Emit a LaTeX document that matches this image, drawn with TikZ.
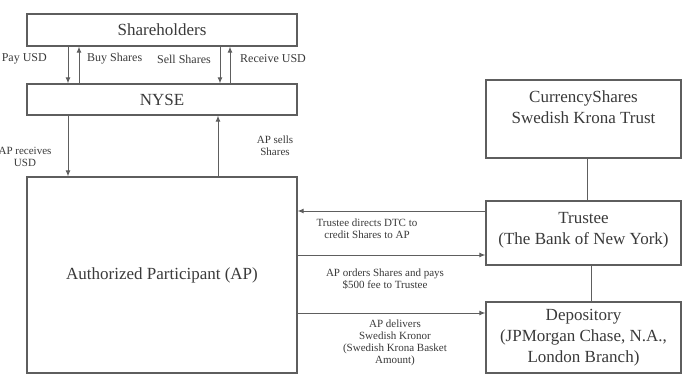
\documentclass[tikz,border=0pt]{standalone}
\usepackage{fontspec}
\setmainfont{Liberation Serif}
\usetikzlibrary{arrows.meta,positioning}
\definecolor{linegray}{HTML}{5E5E5E}
\definecolor{textgray}{HTML}{3A3A3A}

\begin{document}
\begin{tikzpicture}[x=1pt,y=-1pt]
\tikzstyle{entity}=[rectangle, draw=linegray, line width=1.3pt, text=textgray, font=\fontsize{17}{21}\selectfont, align=center, inner sep=0pt]
\tikzstyle{flow}=[-{Latex[length=6pt,width=5pt]}, draw=linegray, line width=1pt]
\tikzstyle{link}=[draw=linegray, line width=1pt]
\tikzstyle{note}=[font=\fontsize{11}{12}\selectfont, text=textgray, align=center, inner sep=0pt]
\tikzstyle{topnote}=[note, font=\fontsize{12}{13}\selectfont]

\clip (0,0) rectangle (683,377);
\fill[white] (0,0) rectangle (683,377);

%%%%%%%%%%%%%%%%%%%%%%%%%%%%%%
%%%%% MERCADO

%%%%% POSICIONES
\coordinate (sh) at (162,30);
\coordinate (ny) at (162,99.5);
\coordinate (pa) at (162,275);

\coordinate (pay) at (68,0);
\coordinate (buy) at (79,0);
\coordinate (sell) at (220,0);
\coordinate (recv) at (230,0);
\coordinate (apsell) at (218,0);

%%%%% CAJAS
\node[entity, minimum width=270, minimum height=32] (shareholders) at (sh) {Shareholders};
\node[entity, minimum width=270, minimum height=31] (nyse) at (ny) {NYSE};
\node[entity, minimum width=270, minimum height=196] (ap) at (pa) {Authorized Participant (AP)};

%%%%%%%%%%%%%%%%%%%%%%%%%%%%%%
%%%%% FIDEICOMISO

%%%%% POSICIONES
\coordinate (tr) at (583.5,119);
\coordinate (te) at (583.5,233);
\coordinate (de) at (583.5,337.5);

\coordinate (dtc) at (0,211);
\coordinate (order) at (0,255);
\coordinate (deliver) at (0,313);

%%%%% CAJAS
\node[entity, minimum width=195, minimum height=78] (trust) at (tr) {};
\node[entity, draw=none, below=11pt of trust.north] (trustname) {CurrencyShares\\Swedish Krona Trust};
\node[entity, minimum width=195, minimum height=64, text depth=10pt] (trustee) at (te) {Trustee\\(The Bank of New York)};
\node[entity, minimum width=195, minimum height=71] (depository) at (de) {Depository\\(JPMorgan Chase, N.A.,\\London Branch)};

%%%%%%%%%%%%%%%%%%%%%%%%%%%%%%
%%%%% CONEXIONES
\draw[flow] (shareholders.south -| pay) -- (nyse.north -| pay);
\draw[flow] (nyse.north -| buy) -- (shareholders.south -| buy);
\draw[flow] (shareholders.south -| sell) -- (nyse.north -| sell);
\draw[flow] (nyse.north -| recv) -- (shareholders.south -| recv);

\draw[flow] (nyse.south -| pay) -- (ap.north -| pay);
\draw[flow] (ap.north -| apsell) -- (nyse.south -| apsell);

\draw[flow] (trustee.west |- dtc) -- (ap.east |- dtc);
\draw[flow] (ap.east |- order) -- (trustee.west |- order);
\draw[flow] (ap.east |- deliver) -- (depository.west |- deliver);

\draw[link] ([xshift=4]trust.south) -- ([xshift=4]trustee.north);
\draw[link] ([xshift=8]trustee.south) -- ([xshift=8]depository.north);

%%%%%%%%%%%%%%%%%%%%%%%%%%%%%%
%%%%% ETIQUETAS
\node[topnote, anchor=east] (payusd) at (47,59) {Pay USD};
\node[topnote, anchor=west] (buyshares) at (87,59) {Buy Shares};
\node[topnote, anchor=east] (sellshares) at (211,59) {Sell Shares};
\node[topnote, anchor=west] (recvusd) at (240,59) {Receive USD};

\node[note] (apreceives) at (25,157) {AP receives\\USD};
\node[note] (apsells) at (275,146) {AP sells\\Shares};

\node[note] (dtcnote) at (367,229) {Trustee directs DTC to\\credit Shares to AP};
\node[note] (ordernote) at (385,279) {AP orders Shares and pays\\\$500 fee to Trustee};
\node[note] (delivernote) at (395,343) {AP delivers\\Swedish Kronor\\(Swedish Krona Basket\\Amount)};

\end{tikzpicture}
\end{document}
